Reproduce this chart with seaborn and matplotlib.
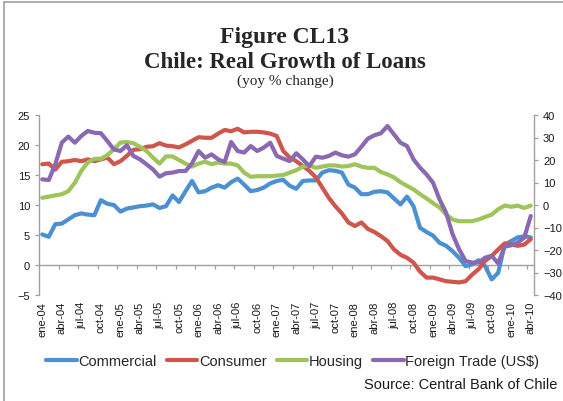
import matplotlib
matplotlib.use("Agg")
import matplotlib.pyplot as plt
from matplotlib.lines import Line2D
import numpy as np
import pandas as pd
import seaborn as sns

# Monthly real loan growth, yoy % change, ene-04 .. abr-10
commercial = [5.1, 4.7, 6.8, 6.9, 7.6, 8.3, 8.6, 8.4, 8.3, 10.8,
              10.2, 10.0, 8.9, 9.4, 9.6, 9.8, 9.9, 10.1, 9.5, 9.8,
              11.6, 10.5, 12.3, 14.0, 12.1, 12.3, 12.9, 13.3, 12.9, 13.8,
              14.4, 13.4, 12.3, 12.5, 12.9, 13.6, 14.0, 14.2, 13.2, 12.7,
              14.0, 14.1, 14.1, 15.4, 15.8, 15.7, 15.4, 13.4, 12.9, 11.8,
              11.8, 12.2, 12.3, 12.1, 11.1, 10.1, 11.4, 9.8, 6.2, 5.5,
              4.9, 3.7, 3.2, 2.3, 1.2, -0.2, 0.1, 0.8, -0.2, -2.4,
              -1.3, 3.4, 4.0, 4.6, 4.8, 4.6]
consumer = [16.8, 16.9, 15.9, 17.2, 17.3, 17.5, 17.3, 17.6, 17.3, 17.6,
            17.9, 16.8, 17.3, 18.2, 19.2, 19.3, 19.7, 19.8, 20.3, 19.9,
            19.8, 19.6, 20.1, 20.7, 21.3, 21.2, 21.2, 21.9, 22.5, 22.3,
            22.7, 22.1, 22.2, 22.2, 22.1, 21.9, 21.5, 19.0, 17.9, 17.3,
            16.5, 15.7, 14.6, 12.9, 11.2, 9.8, 8.6, 7.1, 6.5, 7.1,
            6.0, 5.5, 4.8, 4.0, 2.6, 1.7, 1.2, 0.4, -1.1, -2.1,
            -2.1, -2.4, -2.7, -2.8, -2.9, -2.7, -1.6, -0.7, 0.7, 1.5,
            2.6, 3.6, 3.4, 3.2, 3.4, 4.3]
housing = [11.2, 11.4, 11.6, 11.8, 12.3, 13.7, 15.7, 17.1, 17.7, 17.7,
           18.3, 19.3, 20.4, 20.5, 20.3, 19.7, 19.0, 17.9, 16.9, 18.1,
           18.1, 17.5, 16.9, 16.4, 16.9, 17.2, 16.8, 17.1, 16.9, 16.9,
           16.6, 15.4, 14.7, 14.8, 14.8, 14.8, 14.9, 15.0, 15.4, 15.8,
           16.4, 16.6, 16.2, 16.4, 16.6, 16.6, 16.4, 16.5, 16.8, 16.4,
           16.2, 16.2, 15.5, 15.1, 14.6, 13.8, 13.2, 12.6, 11.8, 11.1,
           10.3, 9.6, 8.4, 7.6, 7.3, 7.3, 7.3, 7.6, 8.0, 8.4,
           9.3, 9.9, 9.7, 9.9, 9.5, 9.9]
# Foreign trade loans in US$, plotted on the right axis
foreign_trade = [11.4, 11.1, 18.1, 27.7, 30.4, 27.7, 30.7, 32.9, 32.1, 31.9,
                 28.4, 24.7, 24.0, 26.5, 21.8, 20.3, 18.1, 15.8, 12.6, 14.1,
                 14.4, 15.1, 15.1, 18.5, 24.0, 21.0, 22.5, 20.3, 19.1, 28.0,
                 24.0, 23.3, 26.2, 24.0, 25.5, 27.7, 21.8, 20.6, 19.5, 23.0,
                 20.3, 17.3, 21.5, 21.0, 21.8, 23.3, 22.1, 21.5, 22.5, 25.9,
                 29.5, 31.0, 31.9, 35.1, 31.4, 27.7, 26.2, 20.3, 16.6, 13.6,
                 9.9, 2.5, -3.4, -13.0, -19.7, -24.9, -25.6, -25.6, -23.4, -22.6,
                 -25.9, -18.5, -17.9, -16.7, -14.5, -4.9]

month_abbr = ["ene", "feb", "mar", "abr", "may", "jun",
              "jul", "ago", "sep", "oct", "nov", "dic"]
years = ["04", "05", "06", "07", "08", "09", "10"]
months = [f"{m}-{y}" for y in years for m in month_abbr][:len(commercial)]

left_ticks = [-5, 0, 5, 10, 15, 20, 25]
right_ticks = [-40, -30, -20, -10, 0, 10, 20, 30, 40]

series_names = ["Commercial", "Consumer", "Housing", "Foreign Trade (US$)"]
colors = ["#4A90D2", "#D0554B", "#9EC45A", "#8A69B2"]

df = pd.DataFrame({"idx": np.arange(len(months)), "month": months,
                   "Commercial": commercial, "Consumer": consumer,
                   "Housing": housing, "Foreign Trade (US$)": foreign_trade})

sns.set_style("white")
plt.rcParams["font.family"] = ["Liberation Sans", "DejaVu Sans"]

W, H = 563, 402
fig = plt.figure(figsize=(W / 100, H / 100), dpi=100)
gray = "#A0A0A0"

ax_l, ax_r, ax_t, ax_b = 39, 534, 116, 296
ax = fig.add_axes([ax_l / W, 1 - ax_b / H, (ax_r - ax_l) / W, (ax_b - ax_t) / H])
ax2 = ax.twinx()

lw = 3.0
for name, c in zip(series_names[:3], colors[:3]):
    sns.lineplot(data=df, x="idx", y=name, ax=ax, color=c, lw=lw,
                 solid_capstyle="round", solid_joinstyle="round")
sns.lineplot(data=df, x="idx", y=series_names[3], ax=ax2, color=colors[3], lw=lw,
             solid_capstyle="round", solid_joinstyle="round")

n = len(months)
ax.set_xlim(-0.5, n - 0.5)
ax.set_ylim(left_ticks[0], left_ticks[-1])
ax2.set_ylim(right_ticks[0], right_ticks[-1])
ax.set_yticks(left_ticks)
ax2.set_yticks(right_ticks)
ax.set_xlabel("")
ax.set_ylabel("")
ax2.set_ylabel("")

label_pos = list(range(0, n, 3))
ax.set_xticks(label_pos)
ax.set_xticklabels([months[i] for i in label_pos], rotation=90)
ax.tick_params(axis="x", length=0, pad=4.3, labelsize=8, colors="#1a1a1a")
ax.tick_params(axis="y", direction="out", length=3, width=0.9, color=gray,
               pad=3.5, labelsize=8, labelcolor="#1a1a1a", left=True)
ax2.tick_params(axis="y", direction="out", length=3, width=0.9, color=gray,
                pad=3.5, labelsize=8, labelcolor="#1a1a1a", right=True)

for a in (ax, ax2):
    for s in ("top", "bottom"):
        a.spines[s].set_visible(False)
ax.spines["right"].set_visible(False)
ax.spines["left"].set_color(gray)
ax.spines["left"].set_linewidth(1.0)
ax2.spines["left"].set_visible(False)
ax2.spines["right"].set_color(gray)
ax2.spines["right"].set_linewidth(1.0)

# category axis line crossing at zero, with tick marks every quarter
zero_frac = (0 - left_ticks[0]) / (left_ticks[-1] - left_ticks[0])
sec = ax.secondary_xaxis(zero_frac)
sec.set_xticks(np.arange(2.5, n - 0.5, 3))
sec.tick_params(axis="x", direction="out", length=3, width=0.9, color=gray,
                labelbottom=False, labeltop=False)
for s in sec.spines.values():
    s.set_color(gray)
    s.set_linewidth(1.0)

ax.set_facecolor("none")
ax2.set_facecolor("none")

# titles
serif = ["Liberation Serif", "DejaVu Serif"]
cx = 285 / W
fig.text(cx, 1 - 43 / H, "Figure CL13", ha="center", va="baseline",
         family=serif, weight="bold", size=17)
fig.text(cx, 1 - 68.5 / H, "Chile: Real Growth of Loans", ha="center",
         va="baseline", family=serif, weight="bold", size=16.5)
fig.text(cx, 1 - 85 / H, "(yoy % change)", ha="center", va="baseline",
         family=serif, size=11)

# legend
handles = ax.get_lines()[:3] + ax2.get_lines()[:1]
fig.legend(handles, series_names, loc="center left",
           bbox_to_anchor=(46 / W, 1 - 362 / H), ncol=4, frameon=False,
           fontsize=10.5, handlelength=2.1, handletextpad=0.1,
           columnspacing=0.7, borderaxespad=0, borderpad=0)

fig.text(557 / W, 1 - 385 / H, "Source: Central Bank of Chile", ha="right",
         va="center", size=10.5, color="#1a1a1a")

# page frame
fig.add_artist(Line2D([4 / W, 1], [1 - 3 / H, 1 - 3 / H], transform=fig.transFigure,
                      color=gray, lw=1.2))
fig.add_artist(Line2D([4 / W, 4 / W], [0, 1 - 3 / H], transform=fig.transFigure,
                      color=gray, lw=1.2))

fig.savefig("out.png", dpi=100, facecolor="white")
